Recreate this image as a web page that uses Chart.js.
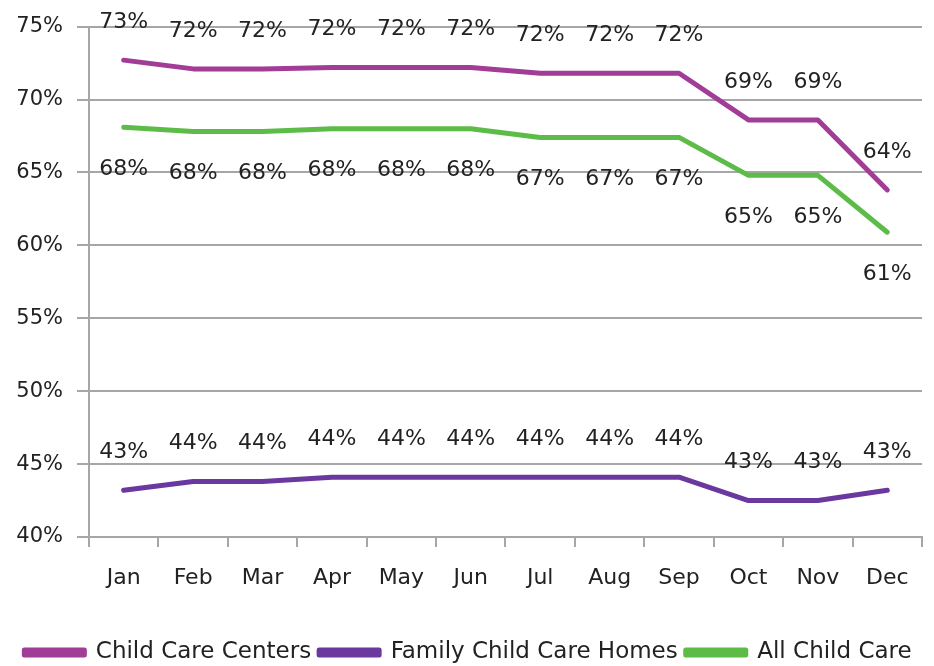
<!DOCTYPE html>
<html>
<head>
<meta charset="utf-8">
<script src="https://cdn.jsdelivr.net/npm/chart.js@4.4.1/dist/chart.umd.min.js"></script>
<style>
  html, body { margin: 0; padding: 0; background: #fff; }
  #wrap { width: 934px; height: 666px; position: relative; }
</style>
</head>
<body>
<div id="wrap"><canvas id="chartMonthly"></canvas></div>
<script>
const months = ["Jan", "Feb", "Mar", "Apr", "May", "Jun", "Jul", "Aug", "Sep", "Oct", "Nov", "Dec"];
const seriesNames = ["Child Care Centers", "Family Child Care Homes", "All Child Care"];
const centers = [72.7, 72.1, 72.1, 72.2, 72.2, 72.2, 71.8, 71.8, 71.8, 68.6, 68.6, 63.8];
const familyHomes = [43.2, 43.8, 43.8, 44.1, 44.1, 44.1, 44.1, 44.1, 44.1, 42.5, 42.5, 43.2];
const allCare = [68.1, 67.8, 67.8, 68.0, 68.0, 68.0, 67.4, 67.4, 67.4, 64.8, 64.8, 60.9];
const yTicks = [40, 45, 50, 55, 60, 65, 70, 75];

const FONT = "'DejaVu Sans', sans-serif";
const TEXT = "#222";
const GRID = "#a6a6a6";

// value labels: above the line for centers/homes, below it for all child care
const valueLabels = {
  id: "valueLabels",
  afterDatasetsDraw(chart, args, opts) {
    const ctx = chart.ctx;
    ctx.save();
    ctx.font = "22px " + FONT;
    ctx.fillStyle = TEXT;
    ctx.textAlign = "center";
    ctx.textBaseline = "middle";
    chart.data.datasets.forEach((ds, i) => {
      const meta = chart.getDatasetMeta(i);
      const off = opts.offsets[i];
      meta.data.forEach((pt, j) => {
        ctx.fillText(Math.round(ds.data[j]) + "%", pt.x, pt.y + off);
      });
    });
    ctx.restore();
  },
};

function lineSet(label, data, color) {
  return {
    label,
    data,
    borderColor: color,
    backgroundColor: color,
    borderWidth: 5,
    pointRadius: 0,
    tension: 0,
    borderCapStyle: "round",
    borderJoinStyle: "round",
  };
}

new Chart(document.getElementById("chartMonthly").getContext("2d"), {
  type: "line",
  data: {
    labels: months,
    datasets: [
      lineSet(seriesNames[0], centers, "#a13c97"),
      lineSet(seriesNames[1], familyHomes, "#6a389e"),
      lineSet(seriesNames[2], allCare, "#5cbc47"),
    ],
  },
  options: {
    responsive: true,
    maintainAspectRatio: false,
    animation: false,
    layout: { padding: { top: 22, right: 12, bottom: -8, left: 14 } },
    plugins: {
      tooltip: { enabled: false },
      valueLabels: { offsets: [-38, -38, 42] },
      legend: {
        position: "bottom",
        labels: {
          font: { family: FONT, size: 23 },
          color: TEXT,
          boxWidth: 60,
          boxHeight: 5,
          padding: 8,
        },
      },
    },
    scales: {
      x: {
        offset: true,
        afterFit: (s) => { s.height = 96; },
        grid: { display: true, drawOnChartArea: false, offset: true, tickLength: 10, color: GRID, lineWidth: 2 },
        border: { color: GRID, width: 2 },
        ticks: { font: { family: FONT, size: 22 }, color: TEXT, padding: 18, maxRotation: 0 },
      },
      y: {
        min: 40,
        max: 75,
        afterFit: (s) => { s.width = 75; },
        afterBuildTicks: (s) => { s.ticks = yTicks.map((v) => ({ value: v })); },
        grid: { color: GRID, lineWidth: 2, tickLength: 12 },
        border: { color: GRID, width: 2 },
        ticks: { font: { family: FONT, size: 21 }, color: TEXT, padding: 14, callback: (v) => v + "%" },
      },
    },
  },
  plugins: [valueLabels],
});
</script>
</body>
</html>
